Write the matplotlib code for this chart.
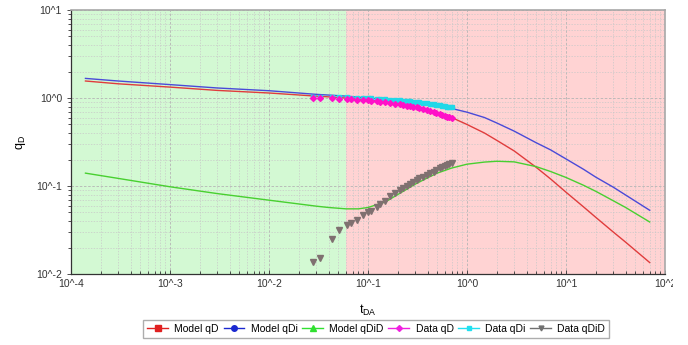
import numpy as np
import matplotlib
matplotlib.use("Agg")
import matplotlib.pyplot as plt
from matplotlib.ticker import LogLocator, FuncFormatter, NullFormatter
from matplotlib.transforms import Bbox

plt.rcParams['font.family'] = ['Liberation Sans', 'DejaVu Sans']

# type-curve model (dimensionless time vs rate)
t_model = [1.4e-4, 3e-4, 1e-3, 3e-3, 1e-2, 3e-2, 0.04, 0.06, 0.08, 0.1, 0.15, 0.2, 0.3,
           0.4, 0.5, 0.7, 1.0, 1.5, 2.0, 3.0, 5.0, 7.0, 10.0, 15.0, 20.0, 30.0, 40.0, 70.0]
model_qD = [1.56, 1.45, 1.33, 1.22, 1.14, 1.05, 1.03, 1.00, 0.97, 0.95, 0.90, 0.86, 0.79,
            0.73, 0.68, 0.60, 0.50, 0.40, 0.33, 0.25, 0.163, 0.12, 0.085, 0.058, 0.044,
            0.030, 0.023, 0.0135]
model_qDi = [1.67, 1.56, 1.42, 1.30, 1.21, 1.10, 1.08, 1.05, 1.02, 1.00, 0.96, 0.92, 0.87,
             0.84, 0.81, 0.76, 0.69, 0.60, 0.52, 0.42, 0.31, 0.257, 0.203, 0.155, 0.126,
             0.097, 0.079, 0.053]
model_qDiD = [0.14, 0.122, 0.098, 0.082, 0.069, 0.059, 0.057, 0.055, 0.055, 0.057, 0.066,
              0.08, 0.105, 0.124, 0.14, 0.16, 0.177, 0.187, 0.191, 0.188, 0.166, 0.146,
              0.125, 0.102, 0.087, 0.068, 0.057, 0.039]

# matched well data
t_data = [0.028, 0.033, 0.043, 0.051, 0.061, 0.068, 0.077, 0.090, 0.100, 0.108, 0.122,
          0.133, 0.149, 0.167, 0.187, 0.210, 0.228, 0.246, 0.265, 0.287, 0.310, 0.330,
          0.360, 0.390, 0.420, 0.460, 0.490, 0.530, 0.560, 0.600, 0.630, 0.660, 0.700]
data_qD = [1.00, 0.99, 0.99, 0.98, 0.97, 0.97, 0.96, 0.95, 0.94, 0.93, 0.92,
           0.91, 0.89, 0.88, 0.86, 0.85, 0.83, 0.82, 0.81, 0.79, 0.78, 0.77,
           0.75, 0.73, 0.715, 0.695, 0.68, 0.66, 0.645, 0.63, 0.615, 0.605, 0.59]
data_qDi = [1.03, 1.03, 1.03, 1.02, 1.02, 1.01, 1.01, 1.00, 1.00, 0.99, 0.98,
            0.98, 0.97, 0.96, 0.95, 0.94, 0.93, 0.92, 0.915, 0.905, 0.895, 0.89,
            0.88, 0.87, 0.86, 0.85, 0.84, 0.83, 0.82, 0.81, 0.80, 0.795, 0.79]
data_qDiD = [0.0138, 0.0151, 0.0248, 0.0316, 0.036, 0.0383, 0.041, 0.047, 0.050, 0.052, 0.058,
             0.063, 0.068, 0.076, 0.083, 0.090, 0.095, 0.100, 0.105, 0.112, 0.117, 0.122,
             0.127, 0.133, 0.139, 0.146, 0.152, 0.159, 0.164, 0.170, 0.174, 0.179, 0.184]

t_split = 0.06   # end of the early-time (green) region

fig = plt.figure(figsize=(6.88, 3.45), dpi=100)
ax = fig.add_axes([0.1032, 0.2058, 0.8634, 0.7652])
ax.set_xscale('log')
ax.set_yscale('log')
ax.set_xlim(1e-4, 1e2)
ax.set_ylim(1e-2, 1e1)

ax.axvspan(1e-4, t_split, color='#d3f9d3', zorder=0, lw=0)
ax.axvspan(t_split, 1e2, color='#ffd3d3', zorder=0, lw=0)

ax.xaxis.set_major_locator(LogLocator(base=10, numticks=10))
ax.yaxis.set_major_locator(LogLocator(base=10, numticks=10))
ax.xaxis.set_minor_locator(LogLocator(base=10, subs=np.arange(2, 10), numticks=20))
ax.yaxis.set_minor_locator(LogLocator(base=10, subs=np.arange(2, 10), numticks=20))
fmt = FuncFormatter(lambda v, p: "10^%d" % int(round(np.log10(v))))
ax.xaxis.set_major_formatter(fmt)
ax.yaxis.set_major_formatter(fmt)
ax.xaxis.set_minor_formatter(NullFormatter())
ax.yaxis.set_minor_formatter(NullFormatter())

ax.grid(True, which='major', color='#b4b4b4', ls=(0, (3, 2)), lw=0.6, zorder=1)
ax.grid(True, which='minor', color='#c8c8c8', ls=(0, (2, 2)), lw=0.5, zorder=1)
ax.set_axisbelow(True)

ax.tick_params(which='both', labelsize=7.5, colors='#333333', width=0.6)
ax.tick_params(which='major', length=3)
ax.tick_params(which='minor', length=2)
ax.tick_params(axis='x', which='both', direction='in')
ax.tick_params(axis='y', which='both', direction='out')

for side in ['left', 'bottom']:
    ax.spines[side].set_color('#333333')
    ax.spines[side].set_linewidth(0.9)
for side in ['top', 'right']:
    ax.spines[side].set_color('#a8a8a8')
    ax.spines[side].set_linewidth(1.2)

ax.plot(t_model, model_qD, color='#e03c3c', lw=1.0, zorder=3)
ax.plot(t_model, model_qDi, color='#4a4ad8', lw=1.0, zorder=3)
ax.plot(t_model, model_qDiD, color='#48d030', lw=1.0, zorder=3)

ax.plot(t_data, data_qDi, ls='none', marker='s', ms=3, color='#22d8e8', mec='#22d8e8', zorder=4)
ax.plot(t_data, data_qD, ls='none', marker='D', ms=3, color='#ff10c8', mec='#ff10c8', zorder=5)
ax.plot(t_data, data_qDiD, ls='none', marker='v', ms=4.5, color='#7f7070', mec='#7f7070', zorder=6)

ax.set_xlabel('t$_\\mathregular{DA}$', fontsize=9, labelpad=10)
ax.set_ylabel('q$_\\mathregular{D}$', fontsize=9, labelpad=6)

# the last x tick label is cut off at the widget edge
fig.canvas.draw()
clip = Bbox.from_extents(0, 0, 673, 345)
for lab in ax.get_xticklabels():
    lab.set_clip_box(clip)
    lab.set_clip_on(True)

handles = [
    plt.Line2D([], [], color='#e02020', marker='s', ms=4, lw=1.0),
    plt.Line2D([], [], color='#1a28d0', marker='o', ms=4, lw=1.0),
    plt.Line2D([], [], color='#30e030', marker='^', ms=4, lw=1.0),
    plt.Line2D([], [], color='#f020e0', marker='D', ms=3, lw=1.0),
    plt.Line2D([], [], color='#20e0f0', marker='s', ms=2.5, lw=1.0),
    plt.Line2D([], [], color='#707070', marker='v', ms=3.5, lw=1.0),
]
names = ['Model qD', 'Model qDi', 'Model qDiD', 'Data qD', 'Data qDi', 'Data qDiD']
leg = fig.legend(handles, names, loc='center', bbox_to_anchor=(0.547, 0.046), ncol=6,
                 fontsize=7.5, frameon=True, fancybox=False, handlelength=2.0,
                 handletextpad=0.6, columnspacing=0.45, borderpad=0.4)
leg.get_frame().set_edgecolor('#999999')
leg.get_frame().set_linewidth(1.0)

fig.savefig('out.png', dpi=100)
